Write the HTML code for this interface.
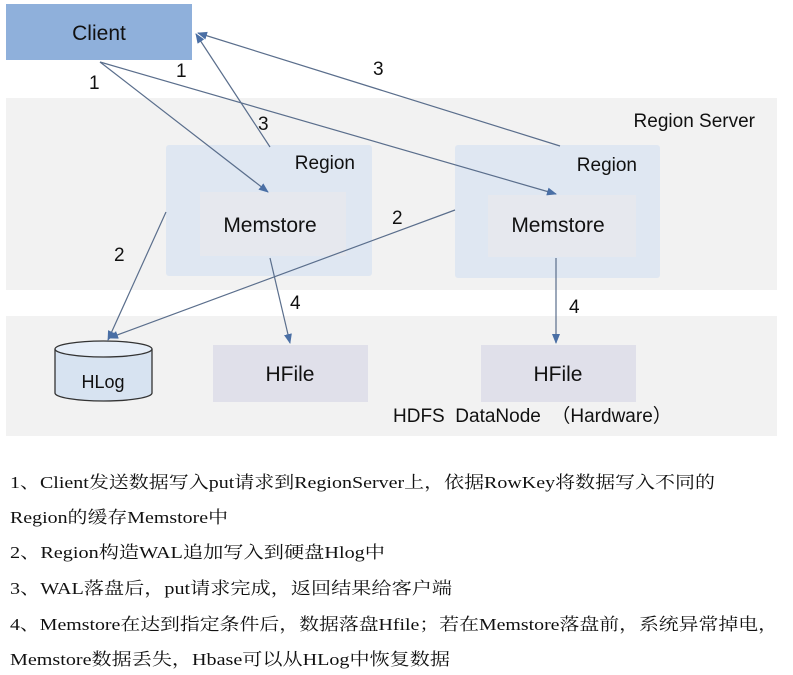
<!DOCTYPE html>
<html><head><meta charset="utf-8"><style>
html,body{margin:0;padding:0;background:#fff;width:793px;height:675px;overflow:hidden}
svg{display:block}
.s{font-family:"Liberation Sans","Noto Sans CJK SC",sans-serif;fill:#111}
.t{font-family:"Liberation Serif","Noto Serif CJK SC",serif;font-size:17px;fill:#111}
</style></head><body>
<svg width="793" height="675" viewBox="0 0 793 675" xmlns="http://www.w3.org/2000/svg">
<defs><marker id="a" markerWidth="10" markerHeight="10" refX="9" refY="5" orient="auto" markerUnits="userSpaceOnUse"><path d="M0,1 L10,5 L0,9 z" fill="#4a6fa5"/></marker></defs>
<rect x="6" y="98" width="771" height="192" fill="#f2f2f2"/>
<rect x="6" y="316" width="771" height="120" fill="#f2f2f2"/>
<rect x="6" y="4" width="186" height="56" fill="#8fb0db"/>
<text x="99" y="40" class="s" font-size="21" text-anchor="middle" fill="#1a2840">Client</text>
<text x="755" y="127" class="s" font-size="19" text-anchor="end">Region Server</text>
<rect x="166" y="145" width="206" height="131" rx="3" fill="#dfe7f2"/>
<rect x="200" y="192" width="146" height="64" fill="#e6e8ee"/>
<text x="355" y="169" class="s" font-size="19" text-anchor="end">Region</text>
<text x="270" y="232" class="s" font-size="21" text-anchor="middle">Memstore</text>
<rect x="455" y="145" width="205" height="133" rx="3" fill="#dfe7f2"/>
<rect x="488" y="195" width="148" height="62" fill="#e6e8ee"/>
<text x="637" y="171" class="s" font-size="19" text-anchor="end">Region</text>
<text x="558" y="232" class="s" font-size="21" text-anchor="middle">Memstore</text>
<rect x="213" y="345" width="155" height="57" fill="#e0e0ea"/>
<text x="290" y="381" class="s" font-size="21" text-anchor="middle">HFile</text>
<rect x="481" y="345" width="155" height="57" fill="#e0e0ea"/>
<text x="558" y="381" class="s" font-size="21" text-anchor="middle">HFile</text>
<path d="M55,349 L55,393 A48.5,8 0 0 0 152,393 L152,349" fill="#d7e3f1" stroke="#333" stroke-width="1.3"/>
<ellipse cx="103.5" cy="349" rx="48.5" ry="8" fill="#e6eef8" stroke="#333" stroke-width="1.3"/>
<text x="103" y="388" class="s" font-size="18" text-anchor="middle">HLog</text>
<text x="393" y="422" class="s" font-size="19" xml:space="preserve">HDFS  DataNode  （Hardware）</text>
<g stroke="#5a6e8c" stroke-width="1.2" fill="none" marker-end="url(#a)">
<line x1="100" y1="62" x2="268" y2="192"/>
<line x1="100" y1="62" x2="556" y2="194"/>
<line x1="270" y1="147" x2="196" y2="34"/>
<line x1="560" y1="146" x2="198" y2="33"/>
<line x1="166" y1="212" x2="108" y2="340"/>
<line x1="455" y1="210" x2="109" y2="338"/>
<line x1="270" y1="258" x2="290" y2="343"/>
<line x1="556" y1="258" x2="556" y2="343"/>
</g>
<g class="s" font-size="19">
<text x="89" y="89">1</text><text x="176" y="77">1</text>
<text x="258" y="130">3</text><text x="373" y="75">3</text>
<text x="114" y="261">2</text><text x="392" y="224">2</text>
<text x="290" y="309">4</text><text x="569" y="313">4</text>
</g>
<text class="t" x="10" y="488" textLength="705" lengthAdjust="spacingAndGlyphs">1、Client发送数据写入put请求到RegionServer上，依据RowKey将数据写入不同的</text>
<text class="t" x="10" y="523" textLength="218" lengthAdjust="spacingAndGlyphs">Region的缓存Memstore中</text>
<text class="t" x="10" y="558" textLength="375" lengthAdjust="spacingAndGlyphs">2、Region构造WAL追加写入到硬盘Hlog中</text>
<text class="t" x="10" y="594" textLength="442" lengthAdjust="spacingAndGlyphs">3、WAL落盘后，put请求完成，返回结果给客户端</text>
<text class="t" x="10" y="630" textLength="768" lengthAdjust="spacingAndGlyphs">4、Memstore在达到指定条件后，数据落盘Hfile；若在Memstore落盘前，系统异常掉电，</text>
<text class="t" x="10" y="665" textLength="440" lengthAdjust="spacingAndGlyphs">Memstore数据丢失，Hbase可以从HLog中恢复数据</text>
</svg>
</body></html>
